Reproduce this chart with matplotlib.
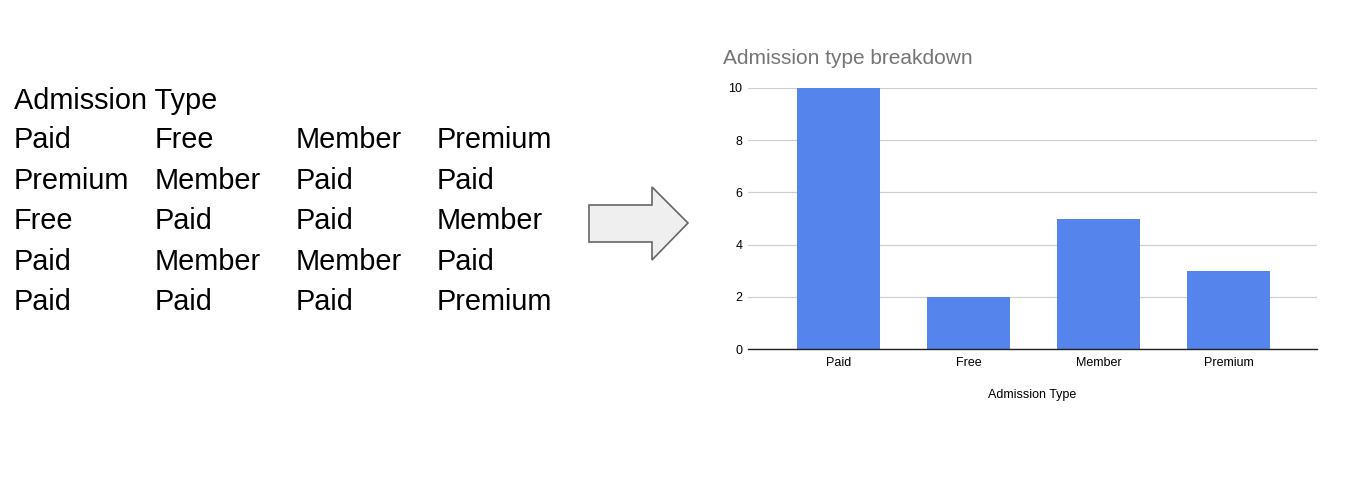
import matplotlib.pyplot as plt
from matplotlib.patches import Polygon

plt.rcParams['font.family'] = ['Liberation Sans', 'DejaVu Sans']

# data
table_header = 'Admission Type'
table_rows = [
    ['Paid', 'Free', 'Member', 'Premium'],
    ['Premium', 'Member', 'Paid', 'Paid'],
    ['Free', 'Paid', 'Paid', 'Member'],
    ['Paid', 'Member', 'Member', 'Paid'],
    ['Paid', 'Paid', 'Paid', 'Premium'],
]
categories = ['Paid', 'Free', 'Member', 'Premium']
counts = [10, 2, 5, 3]
yticks = [0, 2, 4, 6, 8, 10]

W, H = 1348, 480
fig = plt.figure(figsize=(W / 100, H / 100), dpi=100)
fig.patch.set_facecolor('white')

# left side: the raw table as plain text
col_x = [14, 155, 296, 437]
row_y = [101, 140, 181, 221, 262, 302]
fig.text(col_x[0] / W, 1 - row_y[0] / H, table_header, fontsize=20.8, va='center', ha='left')
for r, row in enumerate(table_rows):
    for c, val in enumerate(row):
        fig.text(col_x[c] / W, 1 - row_y[r + 1] / H, val, fontsize=20.8, va='center', ha='left')

# arrow in the middle
arrow_px = [(589, 205), (652, 205), (652, 187), (688, 223), (652, 260), (652, 242), (589, 242)]
arrow = Polygon([(x / W, 1 - y / H) for x, y in arrow_px], closed=True,
                facecolor='#efefef', edgecolor='#666666', linewidth=1.2,
                transform=fig.transFigure)
fig.patches.append(arrow)

# right side: bar chart
ax_l, ax_r, ax_t, ax_b = 748, 1317, 88, 349
ax = fig.add_axes([ax_l / W, 1 - ax_b / H, (ax_r - ax_l) / W, (ax_b - ax_t) / H])
x = list(range(len(categories)))
ax.bar(x, counts, width=0.64, color='#5484EC', zorder=3)
ax.set_xlim(-0.696, 3.68)
ax.set_ylim(0, 10)
ax.set_yticks(yticks)
ax.set_yticklabels([str(v) for v in yticks], fontsize=9)
ax.set_xticks(x)
ax.set_xticklabels(categories, fontsize=9)
ax.grid(axis='y', color='#d0d0d0', linewidth=0.9, zorder=0)
for s in ['top', 'right', 'left']:
    ax.spines[s].set_visible(False)
ax.spines['bottom'].set_color('#222222')
ax.spines['bottom'].set_linewidth(1.0)
ax.spines['bottom'].set_zorder(4)
ax.tick_params(axis='both', length=0, pad=6)
ax.tick_params(axis='y', pad=4)
ax.set_xlabel('Admission Type', fontsize=9, labelpad=14.5)

fig.text(723 / W, 1 - 59 / H, 'Admission type breakdown', fontsize=15, color='#757575',
         va='center', ha='left')

plt.savefig('out.png', dpi=100)
plt.close()
